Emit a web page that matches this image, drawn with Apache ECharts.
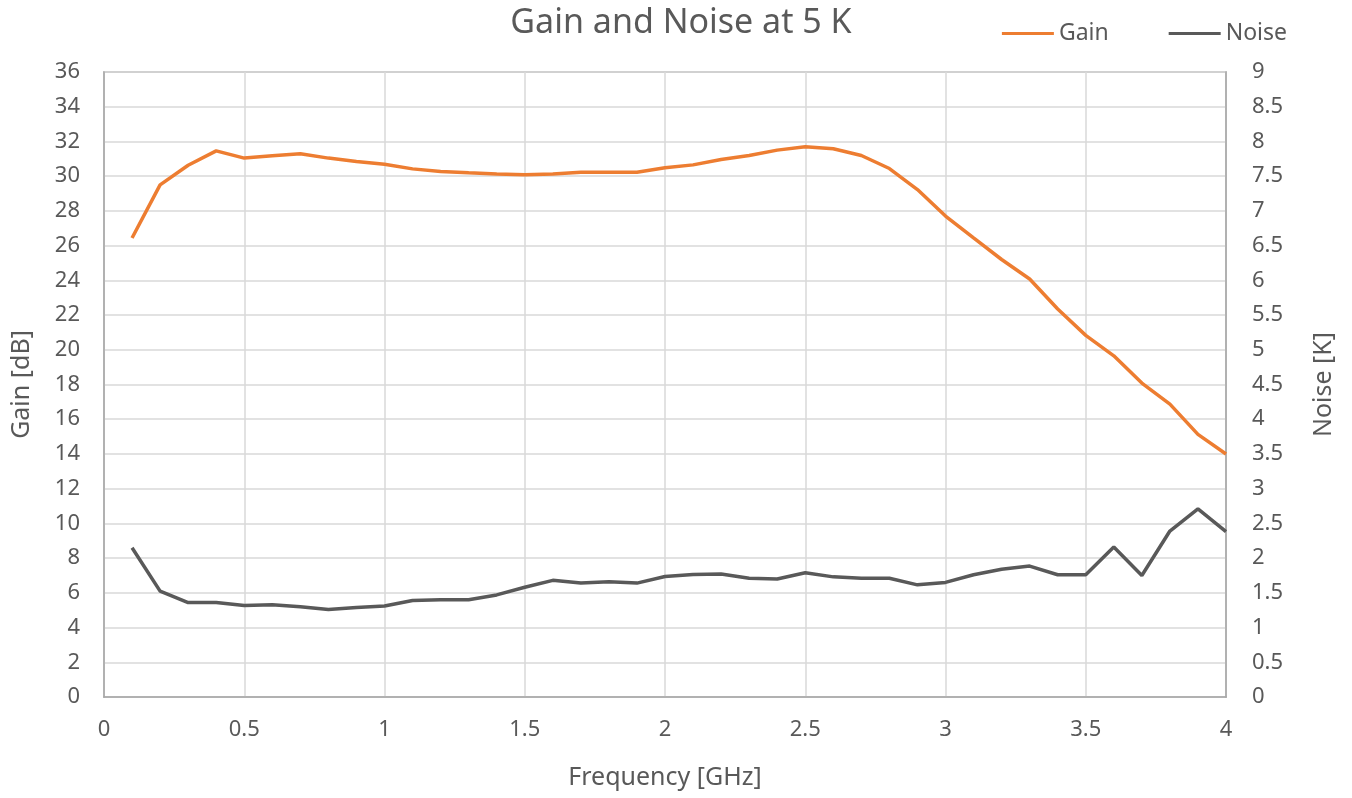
<!DOCTYPE html>
<html>
<head>
<meta charset="utf-8">
<script src="https://cdn.jsdelivr.net/npm/echarts@6/dist/echarts.min.js"></script>
<style>html,body{margin:0;padding:0;background:#fff}#c{width:1352px;height:798px}</style>
</head>
<body>
<div id="c"></div>
<script>
const frequency = [0.1,0.2,0.3,0.4,0.5,0.6,0.7,0.8,0.9,1.0,1.1,1.2,1.3,1.4,1.5,1.6,1.7,1.8,1.9,2.0,2.1,2.2,2.3,2.4,2.5,2.6,2.7,2.8,2.9,3.0,3.1,3.2,3.3,3.4,3.5,3.6,3.7,3.8,3.9,4.0];
const gain = [26.44,29.5,30.63,31.46,31.04,31.17,31.29,31.04,30.85,30.69,30.42,30.27,30.19,30.13,30.08,30.13,30.23,30.23,30.23,30.48,30.65,30.96,31.19,31.5,31.69,31.58,31.19,30.44,29.23,27.7,26.44,25.2,24.08,22.35,20.83,19.65,18.08,16.87,15.13,14.0];
const noise = [2.15,1.524,1.36,1.36,1.317,1.33,1.30,1.26,1.29,1.31,1.39,1.40,1.40,1.47,1.58,1.68,1.64,1.66,1.64,1.735,1.765,1.77,1.71,1.70,1.79,1.73,1.71,1.71,1.615,1.65,1.76,1.84,1.885,1.76,1.76,2.16,1.75,2.39,2.71,2.38];

const FONT = '"Noto Sans", "Open Sans", sans-serif';
const TXT = '#595959';
const GRID = '#d9d9d9';
const AXIS = '#a6a6a6';
const chart = echarts.init(document.getElementById('c'));
chart.setOption({
  animation: false,
  backgroundColor: '#fff',
  textStyle: { fontFamily: FONT, color: TXT },
  title: {
    text: 'Gain and Noise at 5 K',
    left: 676, top: 1, textAlign: 'center',
    textStyle: { fontFamily: FONT, fontSize: 34, fontWeight: 'normal', color: TXT }
  },
  legend: {
    right: 60, top: 17, itemWidth: 52, itemHeight: 3, itemGap: 60,
    icon: 'rect',
    textStyle: { fontFamily: FONT, fontSize: 23, color: TXT },
    data: ['Gain', 'Noise']
  },
  grid: { left: 104, right: 126, top: 72, bottom: 101, outerBoundsMode: 'none', containLabel: false,
    show: true, borderColor: AXIS, borderWidth: 1.5, backgroundColor: 'transparent' },
  xAxis: {
    type: 'value', min: 0, max: 4, interval: 0.5,
    name: 'Frequency [GHz]', nameLocation: 'middle', nameGap: 68,
    nameTextStyle: { fontFamily: FONT, fontSize: 25, color: TXT },
    axisLine: { show: true, lineStyle: { color: AXIS, width: 1.5 } },
    axisTick: { show: false },
    axisLabel: { fontFamily: FONT, fontSize: 22, color: TXT, margin: 22 },
    splitLine: { show: true, lineStyle: { color: GRID, width: 1.5 } }
  },
  yAxis: [{
    type: 'value', min: 0, max: 36, interval: 2,
    name: 'Gain [dB]', nameLocation: 'middle', nameGap: 70,
    nameTextStyle: { fontFamily: FONT, fontSize: 25, color: TXT },
    axisLine: { show: true, lineStyle: { color: AXIS, width: 1.5 } },
    axisTick: { show: false },
    axisLabel: { fontFamily: FONT, fontSize: 22, color: TXT, margin: 24 },
    splitLine: { show: true, lineStyle: { color: GRID, width: 1.5 } }
  }, {
    type: 'value', min: 0, max: 9, interval: 0.5, position: 'right',
    name: 'Noise [K]', nameLocation: 'middle', nameGap: 85,
    nameTextStyle: { fontFamily: FONT, fontSize: 25, color: TXT },
    axisLine: { show: true, lineStyle: { color: AXIS, width: 1.5 } },
    axisTick: { show: false },
    axisLabel: { fontFamily: FONT, fontSize: 22, color: TXT, margin: 26 },
    splitLine: { show: false }
  }],
  series: [{
    name: 'Gain', type: 'line', yAxisIndex: 0,
    data: frequency.map((f, i) => [f, gain[i]]),
    showSymbol: false, symbol: 'none',
    lineStyle: { color: '#ED7D31', width: 3.5 }, itemStyle: { color: '#ED7D31' }
  }, {
    name: 'Noise', type: 'line', yAxisIndex: 1,
    data: frequency.map((f, i) => [f, noise[i]]),
    showSymbol: false, symbol: 'none',
    lineStyle: { color: '#595959', width: 3.5 }, itemStyle: { color: '#595959' }
  }]
});
</script>
</body>
</html>
